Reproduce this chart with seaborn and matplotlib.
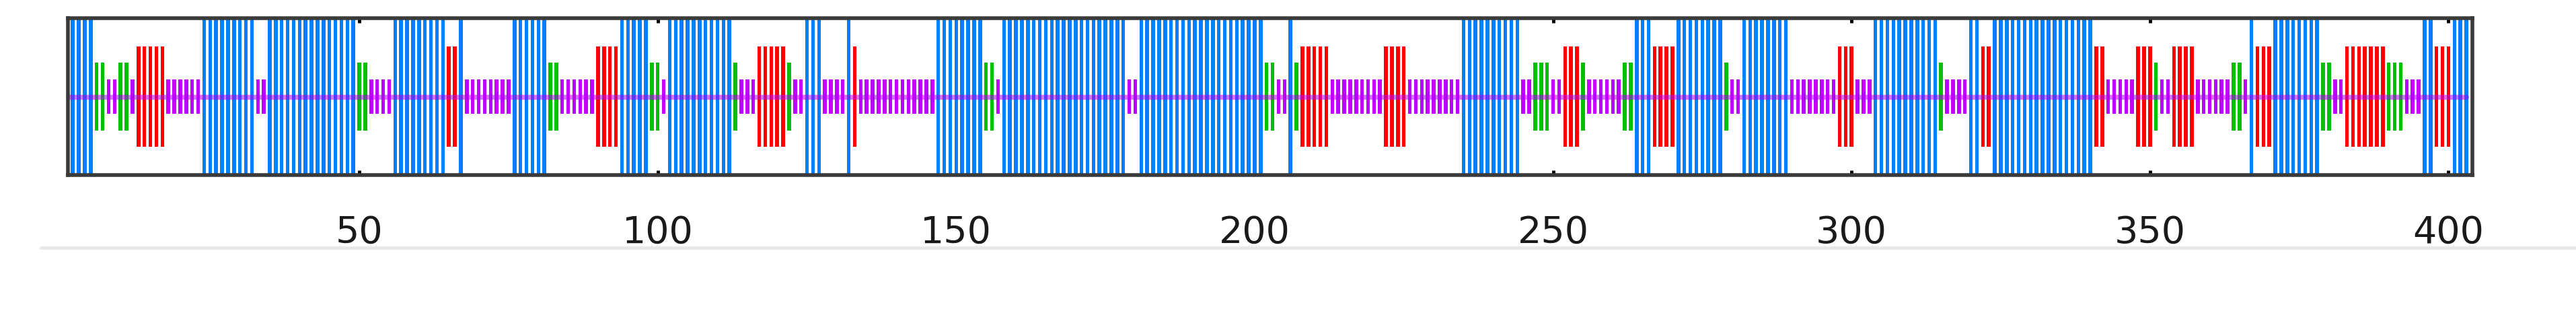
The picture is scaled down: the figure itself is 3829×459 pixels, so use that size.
import numpy as np
import pandas as pd
import seaborn as sns
import matplotlib.pyplot as plt
from matplotlib.lines import Line2D

run_class = ["B", "G", "P", "G", "P", "R", "P", "B", "P", "B", "G", "P", "B", "R", "B", "P",
             "B", "G", "P", "R", "B", "G", "P", "B", "G", "P", "R", "G", "P", "B", "P", "B",
             "R", "P", "B", "G", "P", "B", "P", "B", "G", "P", "B", "G", "R", "P", "R", "P",
             "B", "P", "G", "P", "R", "G", "P", "G", "B", "R", "B", "G", "P", "B", "P", "R",
             "P", "B", "G", "P", "B", "R", "B", "R", "P", "R", "G", "P", "R", "P", "G", "P",
             "B", "R", "B", "G", "P", "R", "G", "P", "B", "R", "B"]
run_len = [5, 2, 2, 2, 1, 5, 6, 9, 2, 15, 2, 4, 9, 2, 1, 8,
           6, 2, 6, 4, 5, 2, 1, 11, 1, 3, 5, 1, 2, 3, 4, 1,
           1, 13, 8, 2, 1, 21, 2, 21, 2, 2, 1, 1, 5, 9, 4, 9,
           10, 2, 3, 2, 3, 1, 6, 2, 3, 4, 8, 1, 2, 8, 8, 3,
           3, 11, 1, 4, 2, 2, 17, 2, 5, 3, 1, 2, 4, 6, 2, 1,
           1, 3, 8, 2, 2, 7, 3, 3, 2, 3, 3]

class_height = {"B": 1.0, "R": 0.64, "G": 0.43, "P": 0.22}
class_color = {"B": "#0080ff", "R": "#ff0000", "G": "#00c000", "P": "#c000ff"}
tick_pos = [50, 100, 150, 200, 250, 300, 350, 400]

cls = np.repeat(run_class, run_len)
df = pd.DataFrame({"pos": np.arange(1, len(cls) + 1), "cls": cls})
df["h"] = df["cls"].map(class_height)
df["neg"] = -df["h"]

sns.set_style("white")
fig = plt.figure(figsize=(38.3, 4.59), dpi=100)
ax = fig.add_axes([0.0264, 0.4336, 0.9331, 0.5074])

# bars are symmetric around zero: draw the upper and lower halves
for col in ["h", "neg"]:
    sns.barplot(data=df, x="pos", y=col, hue="cls", palette=class_color, native_scale=True,
                dodge=False, width=0.62, saturation=1, linewidth=0, errorbar=None,
                legend=False, ax=ax)

sns.lineplot(x=df["pos"], y=np.zeros(len(df)), color="#b000ff", alpha=0.55, lw=5.3, ax=ax)

ax.set_xlim(1.2, 404.0)
ax.set_ylim(-1, 1)
ax.set_xlabel("")
ax.set_ylabel("")
ax.set_yticks([])
ax.set_xticks(tick_pos)
ax.set_xticklabels([str(t) for t in tick_pos])
ax.tick_params(axis="x", direction="in", top=True, bottom=True, length=5, width=3.5,
               color="black", labelsize=40, pad=42, labelcolor="#1a1a1a")
for s in ax.spines.values():
    s.set_visible(True)
    s.set_color("#3a3a3a")
    s.set_linewidth(4)

fig.add_artist(Line2D([0.016, 1.0], [1 - 368 / 459, 1 - 368 / 459], color="#e8e8e8", lw=3.5))

fig.savefig("out.png", dpi=100)
